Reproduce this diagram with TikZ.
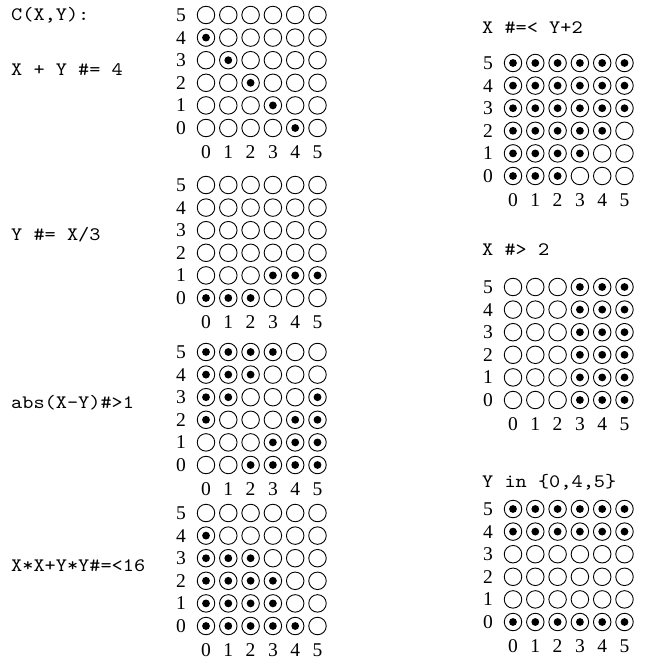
\documentclass[tikz,border=0pt]{standalone}
\usepackage{fontspec}
\setmainfont{Liberation Serif}
\newfontfamily\exprfont{lmmono10-regular.otf}[FakeStretch=1.12]
\usepackage{tikz}

\begin{document}
\begin{tikzpicture}[
    x=1pt, y=-1pt,
    every node/.style={inner sep=0pt},
    expr/.style={anchor=west, font=\exprfont\fontsize{19}{20}\selectfont,
                 text height=11.6pt, text depth=0pt},
    num/.style ={font=\fontsize{19.5}{20}\selectfont,
                 text height=13pt, text depth=0pt},
    cell/.style={draw, circle, line width=0.9pt, minimum size=17.5pt},
    dot/.style ={fill, circle, minimum size=7.8pt}
]
\useasboundingbox (0,0) rectangle (650,661);

\node[expr] (cxy)   at (11,  15) {C(X,Y):};
\node[expr] (csum)  at (11,  70) {X + Y \#= 4};
\node[expr] (cdiv)  at (11, 235) {Y \#= X/3};
\node[expr] (cabs)  at (11, 403) {abs(X-Y)\#>1};
\node[expr] (csq)   at (11, 566) {X*X+Y*Y\#=<16};
\node[expr] (cle)   at (482, 28) {X \#=< Y+2};
\node[expr] (cgt)   at (482,250) {X \#> 2};
\node[expr] (cin)   at (482,482) {Y in \{0,4,5\}};

\foreach \g/\gx/\gy/\test in {
    a/206/128/{\k+\j==4},
    b/206/298/{floor(\k/3)==\j},
    c/206/465/{abs(\k-\j)>1},
    d/206/626/{\k*\k+\j*\j<17},
    e/513/176/{\k<\j+3},
    f/513/400/{\k>2},
    g/513/622/{\j==0 || \j==4 || \j==5}}{
  \foreach \k in {0,...,5}{
    \node[num] (\g-r\k) at (\gx-25, \gy-22.6*\k) {\k};
    \node[num] (\g-c\k) at (\gx+22.3*\k, \gy+24) {\k};
    \foreach \j in {0,...,5}{
      \node[cell] (\g-\k-\j) at (\gx+22.3*\k, \gy-22.6*\j) {};
      \pgfmathtruncatemacro\hit{(\test) ? 1 : 0}
      \ifnum\hit=1 \node[dot] (\g-d\k-\j) at (\g-\k-\j) {}; \fi
    }
  }
}
\end{tikzpicture}
\end{document}
